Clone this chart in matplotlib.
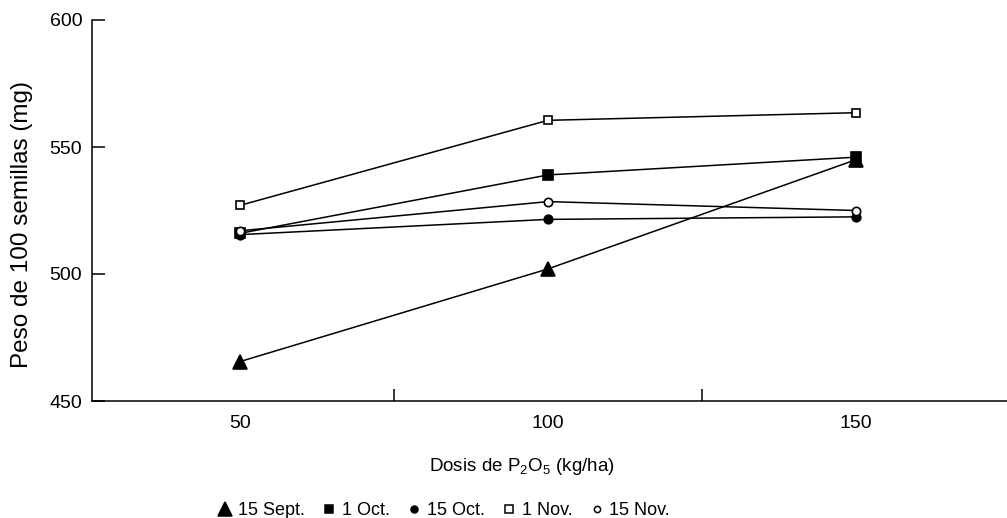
import matplotlib
matplotlib.use("Agg")
import matplotlib.pyplot as plt
from matplotlib.lines import Line2D
from matplotlib.ticker import FixedLocator, NullFormatter

plt.rcParams['font.family'] = ['Liberation Sans', 'DejaVu Sans']
plt.rcParams['mathtext.fontset'] = 'custom'
plt.rcParams['mathtext.rm'] = 'Liberation Sans'
plt.rcParams['mathtext.it'] = 'Liberation Sans'

# Data
dosis = [50, 100, 150]
series_names = ["15 Sept.", "1 Oct.", "15 Oct.", "1 Nov.", "15 Nov."]
sept15 = [465.5, 502.0, 545.0]
oct1 = [516.0, 539.0, 546.0]
oct15 = [515.5, 521.5, 522.5]
nov1 = [527.0, 560.5, 563.5]
nov15 = [517.0, 528.5, 525.0]
values = [sept15, oct1, oct15, nov1, nov15]
y_ticks = [450, 500, 550, 600]
x_ticks = [50, 100, 150]
x_minor = [75, 125]

markers = ['^', 's', 'o', 's', 'o']
faces = ['black', 'black', 'black', 'white', 'white']
msizes = [9.5, 7.2, 6.2, 6.3, 6.0]
leg_sizes = [10, 6, 5, 5.5, 4.5]

fig = plt.figure(figsize=(10.07, 5.18), dpi=100)
ax = fig.add_axes([92/1007, 1-401/518, 1-92/1007, (401-20)/518])

for vals, m, fc, ms in zip(values, markers, faces, msizes):
    ax.plot(dosis, vals, color='black', lw=1.1, marker=m, markersize=ms,
            markerfacecolor=fc, markeredgecolor='black', markeredgewidth=1.2,
            zorder=3)

ax.set_xlim(26, 174.5)
ax.set_ylim(450, 600)

for s in ['top', 'right']:
    ax.spines[s].set_visible(False)
for s in ['left', 'bottom']:
    ax.spines[s].set_linewidth(1.1)

ax.set_yticks(y_ticks)
ax.tick_params(axis='y', direction='in', length=9.5, width=1.1,
               labelsize=14, pad=7)
ax.set_xticks(x_ticks)
ax.xaxis.set_minor_locator(FixedLocator(x_minor))
ax.xaxis.set_minor_formatter(NullFormatter())
ax.tick_params(axis='x', which='major', length=0, labelsize=14, pad=10)
ax.tick_params(axis='x', which='minor', direction='in', length=8.5, width=1.1)

ax.set_ylabel("Peso de 100 semillas (mg)", fontsize=17.5)
ax.yaxis.set_label_coords(-0.064, 0.462)
ax.set_xlabel(r"Dosis de P$_\mathrm{2}$O$_\mathrm{5}$ (kg/ha)", fontsize=13.5)
ax.xaxis.set_label_coords(0.47, -0.145)

handles = [Line2D([], [], linestyle='none', marker=m, markersize=ls,
                  markerfacecolor=fc, markeredgecolor='black', markeredgewidth=1.1)
           for m, fc, ls in zip(markers, faces, leg_sizes)]
fig.legend(handles, series_names, loc='center', bbox_to_anchor=(0.441, 0.014),
           ncol=5, frameon=False, fontsize=13, handlelength=0.8,
           handletextpad=0.3, columnspacing=0.95, borderpad=0, borderaxespad=0)

fig.savefig("out.png", dpi=100)
